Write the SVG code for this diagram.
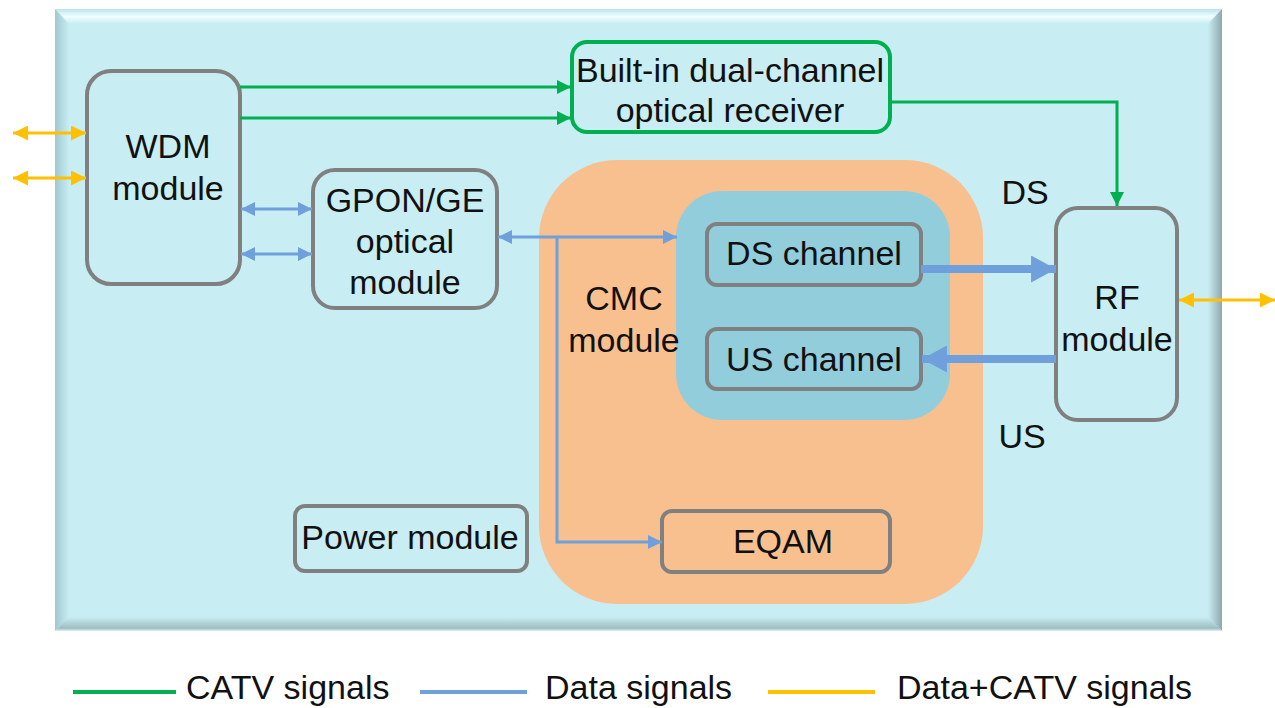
<svg xmlns="http://www.w3.org/2000/svg" width="1275" height="708" viewBox="0 0 1275 708">
  <style>
    text { font-family: "Liberation Sans", Arial, sans-serif; font-size: 34px; fill: #111; text-anchor: middle; }
    .box { fill: #c8edf3; stroke: #808080; stroke-width: 4; }
    .catv { fill: none; stroke: #00b050; stroke-width: 3; }
    .data { fill: none; stroke: #6fa0dc; stroke-width: 3; }
    .mix { fill: none; stroke: #ffc000; stroke-width: 3; }
    .thick { fill: none; stroke: #6fa0dc; stroke-width: 8; }
    .legend { text-anchor: start; }
  </style>
  <defs>
    <marker id="ah-green" viewBox="0 0 12 12" refX="12" refY="6" markerWidth="14" markerHeight="14" markerUnits="userSpaceOnUse" orient="auto">
      <path d="M0,0 L12,6 L0,12 z" fill="#00b050"/>
    </marker>
    <marker id="ah-blue" viewBox="0 0 12 12" refX="12" refY="6" markerWidth="14" markerHeight="14" markerUnits="userSpaceOnUse" orient="auto-start-reverse">
      <path d="M0,0 L12,6 L0,12 z" fill="#6fa0dc"/>
    </marker>
    <marker id="ah-yellow" viewBox="0 0 12 12" refX="12" refY="6" markerWidth="15" markerHeight="15" markerUnits="userSpaceOnUse" orient="auto-start-reverse">
      <path d="M0,0 L12,6 L0,12 z" fill="#ffc000"/>
    </marker>
    <marker id="ah-thick" viewBox="0 0 24 26" refX="24" refY="13" markerWidth="26" markerHeight="27" markerUnits="userSpaceOnUse" orient="auto">
      <path d="M0,0 L24,13 L0,26 z" fill="#6fa0dc"/>
    </marker>
    <linearGradient id="bev-top" x1="0" y1="0" x2="0" y2="1">
      <stop offset="0" stop-color="#b9e3ea"/>
      <stop offset="0.5" stop-color="#f2ffff"/>
      <stop offset="1" stop-color="#c8edf3"/>
    </linearGradient>
    <linearGradient id="bev-left" x1="0" y1="0" x2="1" y2="0">
      <stop offset="0" stop-color="#9fc9cf"/>
      <stop offset="1" stop-color="#c8edf3"/>
    </linearGradient>
    <linearGradient id="bev-right" x1="0" y1="0" x2="1" y2="0">
      <stop offset="0" stop-color="#c8edf3"/>
      <stop offset="1" stop-color="#8fa7ab"/>
    </linearGradient>
    <linearGradient id="bev-bottom" x1="0" y1="0" x2="0" y2="1">
      <stop offset="0" stop-color="#c8edf3"/>
      <stop offset="0.8" stop-color="#9fbcc0"/>
      <stop offset="1" stop-color="#d7f3f7"/>
    </linearGradient>
  </defs>

  <!-- enclosure panel with bevelled edges -->
  <g id="panel">
    <rect x="55" y="9" width="1167" height="622" fill="#c8edf3"/>
    <polygon points="55,9 1222,9 1208,24 69,24" fill="url(#bev-top)"/>
    <polygon points="55,9 69,24 69,617 55,631" fill="url(#bev-left)"/>
    <polygon points="1222,9 1222,631 1208,617 1208,24" fill="url(#bev-right)"/>
    <polygon points="55,631 69,617 1208,617 1222,631" fill="url(#bev-bottom)"/>
  </g>

  <!-- CMC module container -->
  <g id="cmc">
    <rect x="539" y="160" width="444" height="444" rx="78" fill="#f9c08f"/>
    <rect x="676" y="191" width="274" height="229" rx="46" fill="#92cddc"/>
    <text x="624" y="310">CMC</text>
    <text x="624" y="352">module</text>
  </g>

  <g id="wdm">
    <rect class="box" x="87" y="71" width="153" height="213" rx="24"/>
    <text x="168" y="158">WDM</text>
    <text x="168" y="200">module</text>
  </g>

  <g id="receiver">
    <rect x="572" y="42" width="318" height="90" rx="15" fill="#c8edf3" stroke="#00b050" stroke-width="4"/>
    <text x="730" y="82">Built-in dual-channel</text>
    <text x="730" y="122">optical receiver</text>
  </g>

  <g id="gpon">
    <rect class="box" x="313" y="170" width="184" height="138" rx="22"/>
    <text x="405" y="212">GPON/GE</text>
    <text x="405" y="253">optical</text>
    <text x="405" y="294">module</text>
  </g>

  <g id="ds-channel">
    <rect class="box" x="707" y="224" width="214" height="61" rx="10" style="fill:#92cddc"/>
    <text x="814" y="265">DS channel</text>
  </g>

  <g id="us-channel">
    <rect class="box" x="707" y="329" width="214" height="60" rx="10" style="fill:#92cddc"/>
    <text x="814" y="371">US channel</text>
  </g>

  <g id="eqam">
    <rect class="box" x="662" y="511" width="228" height="61" rx="10" style="fill:#f9c08f"/>
    <text x="783" y="553">EQAM</text>
  </g>

  <g id="power">
    <rect class="box" x="295" y="506" width="232" height="65" rx="10"/>
    <text x="410" y="549">Power module</text>
  </g>

  <g id="rf">
    <rect class="box" x="1056" y="208" width="121" height="212" rx="22"/>
    <text x="1117" y="309">RF</text>
    <text x="1117" y="351">module</text>
  </g>

  <g id="labels">
    <text x="1025" y="204">DS</text>
    <text x="1022" y="448">US</text>
  </g>

  <g id="connectors">
    <!-- external optical/RF ports -->
    <line class="mix" x1="13" y1="133" x2="86" y2="133" marker-start="url(#ah-yellow)" marker-end="url(#ah-yellow)"/>
    <line class="mix" x1="13" y1="178" x2="86" y2="178" marker-start="url(#ah-yellow)" marker-end="url(#ah-yellow)"/>
    <line class="mix" x1="1179" y1="300" x2="1275" y2="300" marker-start="url(#ah-yellow)" marker-end="url(#ah-yellow)"/>
    <!-- CATV path -->
    <line class="catv" x1="240" y1="87" x2="571" y2="87" marker-end="url(#ah-green)"/>
    <line class="catv" x1="240" y1="118" x2="571" y2="118" marker-end="url(#ah-green)"/>
    <polyline class="catv" points="890,102 1117,102 1117,206" marker-end="url(#ah-green)"/>
    <!-- data path -->
    <line class="data" x1="241" y1="209" x2="312" y2="209" marker-start="url(#ah-blue)" marker-end="url(#ah-blue)"/>
    <line class="data" x1="241" y1="254" x2="312" y2="254" marker-start="url(#ah-blue)" marker-end="url(#ah-blue)"/>
    <line class="data" x1="498" y1="237" x2="677" y2="237" marker-start="url(#ah-blue)" marker-end="url(#ah-blue)"/>
    <polyline class="data" points="557,237 557,542 662,542" marker-end="url(#ah-blue)"/>
    <!-- downstream / upstream -->
    <line class="thick" x1="921" y1="269" x2="1056" y2="269" marker-end="url(#ah-thick)"/>
    <line class="thick" x1="1056" y1="359" x2="922" y2="359" marker-end="url(#ah-thick)"/>
  </g>

  <g id="legend">
    <line x1="73" y1="692" x2="176" y2="692" stroke="#00b050" stroke-width="4"/>
    <text class="legend" x="186" y="699">CATV signals</text>
    <line x1="420" y1="692" x2="527" y2="692" stroke="#6fa0dc" stroke-width="4"/>
    <text class="legend" x="545" y="699">Data signals</text>
    <line x1="768" y1="692" x2="875" y2="692" stroke="#ffc000" stroke-width="4"/>
    <text class="legend" x="897" y="699">Data+CATV signals</text>
  </g>
</svg>
